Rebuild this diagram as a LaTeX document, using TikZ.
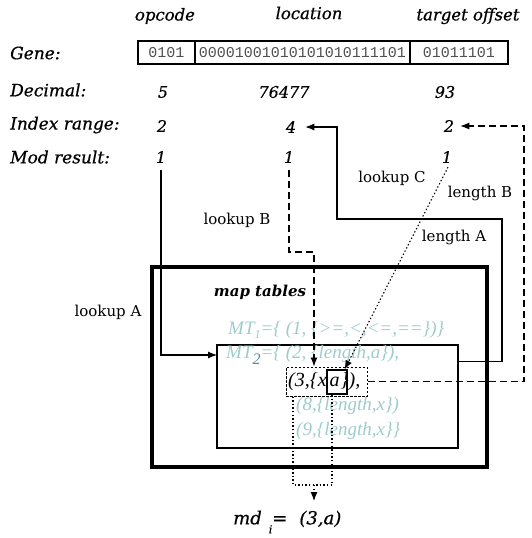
\documentclass[tikz,border=0pt]{standalone}
\usepackage{fontspec}
\setmainfont{DejaVu Serif}[ItalicFeatures={FakeBold=0.6}]
\newfontfamily\tms{Liberation Serif}
\newfontfamily\mono{Liberation Mono}
\usetikzlibrary{arrows.meta,calc}
\definecolor{mtcol}{RGB}{158,204,204}
\definecolor{mtdark}{RGB}{70,145,150}
\definecolor{bitcol}{RGB}{80,80,80}
\tikzset{
  rowlbl/.style={font=\fontsize{17}{20}\selectfont\itshape, anchor=west, inner sep=0pt},
  hdr/.style={font=\fontsize{16.5}{20}\selectfont\itshape, inner sep=0pt},
  val/.style={font=\fontsize{16}{19}\selectfont\itshape, inner sep=0pt},
  connlbl/.style={font=\fontsize{15}{18}\selectfont, inner sep=0pt},
  bits/.style={font=\fontsize{15}{18}\selectfont\mono, text=bitcol, inner sep=0pt},
  field/.style={draw, line width=2pt, minimum height=23pt, inner sep=0pt},
  mtline/.style={font=\fontsize{19}{22}\selectfont\tms\itshape, text=mtcol, anchor=west, inner sep=0pt},
  tip/.style={-{Latex[length=9pt,width=7pt]}},
  conn/.style={line width=1.1pt},
  dashline/.style={dash pattern=on 7pt off 4pt},
  dotline/.style={dash pattern=on 1.4pt off 2.2pt},
}
\begin{document}
\begin{tikzpicture}[x=1pt,y=-1pt]
\useasboundingbox[fill=white] (0,0) rectangle (532,538);

% column headings
\node[hdr] (hop)  at (165,16) {opcode};
\node[hdr] (hloc) at (309,13) {location};
\node[hdr] (htar) at (468,16) {target offset};

% row labels
\node[rowlbl] (lgene) at (10,53)  {Gene:};
\node[rowlbl] (ldec)  at (10,90)  {Decimal:};
\node[rowlbl] (lidx)  at (10,125) {Index range:};
\node[rowlbl] (lmod)  at (10,157) {Mod result:};

% the gene, split in its three fields
\node[field, minimum width=57pt]  (fop)  at (166.5,52.5) {};
\node[field, minimum width=215pt] (floc) at (302.5,52.5) {};
\node[field, minimum width=98pt]  (ftar) at (459,52.5) {};
\node[bits] at (fop)  {0101};
\node[bits] at (floc) {00001001010101010111101};
\node[bits] at (ftar) {01011101};

% decoded values
\node[val] (d1) at (163,92)  {5};
\node[val] (d2) at (284,92)  {76477};
\node[val] (d3) at (445,92)  {93};
\node[val] (i1) at (162,126) {2};
\node[val] (i2) at (291,127) {4};
\node[val] (i3) at (449,126) {2};
\node[val] (m1) at (161,157) {1};
\node[val] (m2) at (289,157) {1};
\node[val] (m3) at (447,157) {1};

% map tables
\node[draw, line width=4.5pt, minimum width=335pt, minimum height=200pt, inner sep=0pt]
  (mapbox) at (319.5,367) {};
\node[font=\fontsize{15}{18}\selectfont\bfseries\itshape, inner sep=0pt] (maptitle) at (260,292) {map tables};
\node[draw, line width=1.2pt, minimum width=241pt, minimum height=103pt, inner sep=0pt]
  (mtbox) at (337.5,396.5) {};

\node[mtline] (mt1) at (228,330) {MT\raisebox{-4pt}{\fontsize{12}{12}\selectfont 1}=\{ (1, \{>=,<,<=,==\})\}};
\node[mtline] (mt2) at (226,355) {MT\raisebox{-6pt}{\fontsize{16}{16}\selectfont\color{mtdark}2}=\{ (2, \{length,a\}),};
\node[mtline, text=black, font=\fontsize{20}{23}\selectfont\tms\itshape] (mt3) at (288,382) {(3,\{x\hspace{3pt}a\hspace{1pt}\}),};
\node[mtline] (mt8) at (296,406) {(8,\{length,x\})};
\node[mtline] (mt9) at (296,431) {(9,\{length,x\}\}};

\node[draw, line width=1pt, dash pattern=on 2.5pt off 1.5pt, minimum width=81pt, minimum height=29pt, inner sep=0pt]
  (sel) at (326.5,381.5) {};
\node[draw, line width=1.1pt, minimum width=20pt, minimum height=24pt, inner sep=0pt]
  (abox) at (337,382) {};

% selected map descriptor
\node[font=\fontsize{18}{21}\selectfont\itshape, inner sep=0pt, anchor=west] (md) at (233,522)
  {md\hspace{7pt}\raisebox{-9pt}{\fontsize{11}{11}\selectfont i}=\hspace{12pt}(3,a)};

% bend points
\coordinate (inA) at (217,355);
\coordinate (bendB) at (314,252);
\coordinate (lenA1) at (502,219);
\coordinate (lenA2) at (337,127);
\coordinate (lenB) at (524,126);
\coordinate (o1) at (293,485);
\coordinate (o2) at (332,485);
\coordinate (om) at (314,485);
\coordinate (omd) at (314,501);

% lookups
\draw[conn, tip] ([yshift=-7pt]m1.south) |- (inA);
\draw[conn, dashline, tip] ([yshift=-7pt]m2.south) |- (bendB) -- (bendB |- sel.north);
\draw[conn, dotline, tip] ([yshift=-4pt,xshift=1pt]m3.south) -- ([xshift=-3pt]abox.north east);

% lengths
\draw[conn, tip] ([yshift=-17pt]mtbox.north east) -| (lenA1) -| (lenA2) -- ([xshift=9pt]i2.east);
\draw[conn, dashline, tip] (sel.east) -| (lenB) -- ([xshift=6pt]i3.east);

% result
\draw[conn, dotline] (sel.south -| o1) -- (o1) -- (o2) -- (abox.south -| o2);
\draw[conn, dotline, tip] (om) -- (omd);

% connector labels
\node[connlbl] (labA) at (108,312) {lookup A};
\node[connlbl] (labB) at (237,220) {lookup B};
\node[connlbl] (labC) at (392,178) {lookup C};
\node[connlbl] (labLB) at (480,193) {length B};
\node[connlbl] (labLA) at (454,237) {length A};
\end{tikzpicture}
\end{document}
